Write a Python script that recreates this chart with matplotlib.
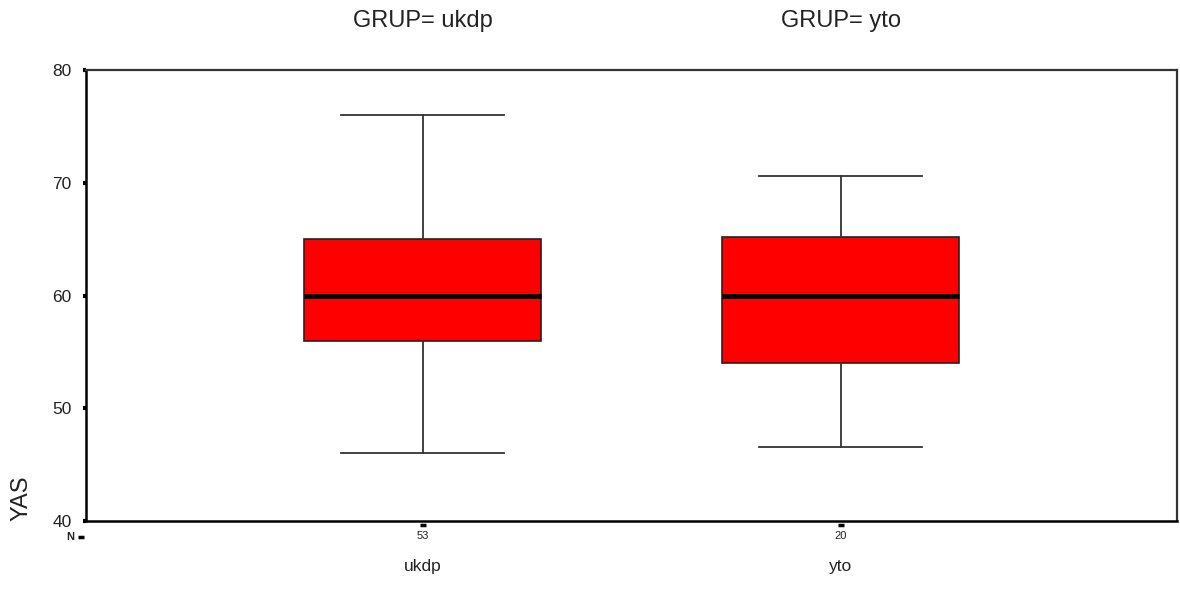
import matplotlib
matplotlib.use("Agg")
import matplotlib.pyplot as plt
import matplotlib.transforms as mtransforms

plt.rcParams['font.family'] = ['Liberation Sans', 'DejaVu Sans']

# Box-plot summaries of YAS by GRUP
groups = ["ukdp", "yto"]
counts = [53, 20]
whisker_low = [46.0, 46.6]
q1 = [56.0, 54.0]
medians = [60.0, 60.0]
q3 = [65.0, 65.2]
whisker_high = [76.0, 70.6]
y_ticks = [40, 50, 60, 70, 80]

positions = [1, 2]

fig = plt.figure(figsize=(11.8, 5.9), dpi=100)
ax = fig.add_axes([0.0729, 0.1169, 0.9246, 0.7645])

stats = []
for i, g in enumerate(groups):
    stats.append(dict(label=g, whislo=whisker_low[i], q1=q1[i], med=medians[i],
                      q3=q3[i], whishi=whisker_high[i], fliers=[]))

ax.bxp(stats, positions=positions, widths=0.565, patch_artist=True,
       showfliers=False, capwidths=0.39,
       boxprops=dict(facecolor="#ff0000", edgecolor="#222222", linewidth=1.2),
       medianprops=dict(color="black", linewidth=3.6, solid_capstyle="butt"),
       whiskerprops=dict(color="#333333", linewidth=1.3),
       capprops=dict(color="#333333", linewidth=1.3))

ax.set_xlim(0.195, 2.805)
ax.set_ylim(40, 80)
ax.set_yticks(y_ticks)
ax.set_yticklabels([str(t) for t in y_ticks], fontsize=12.5, color="#222222")
ax.tick_params(axis="y", direction="out", length=2.5, width=3, pad=8, colors="black",
               labelcolor="#222222")
ax.set_xticks([])

for side in ["left", "bottom"]:
    ax.spines[side].set_linewidth(1.8)
for side in ["top", "right"]:
    ax.spines[side].set_linewidth(1.6)
    ax.spines[side].set_color("#333333")

ax.set_ylabel("YAS", fontsize=17, color="#222222", loc="bottom", labelpad=14)

# Group titles above the panel
top = mtransforms.blended_transform_factory(ax.transData, fig.transFigure)
for p, g in zip(positions, groups):
    ax.text(p, 0.964, f"GRUP= {g}", transform=top, ha="center", va="center",
            fontsize=17, color="#222222")

# Case counts and group names under the axis
below = mtransforms.blended_transform_factory(ax.transData, ax.transAxes)
for p, g, n in zip(positions, groups, counts):
    ax.plot([p], [-0.0098], marker="_", markersize=5, markeredgewidth=2.5,
            color="black", transform=below, clip_on=False)
    ax.text(p, -0.033, str(n), transform=below, ha="center", va="center",
            fontsize=8, color="#222222")
    ax.text(p, -0.1, g, transform=below, ha="center", va="center",
            fontsize=12.5, color="#222222")

ax.text(-0.0105, -0.035, "N", transform=ax.transAxes, ha="right", va="center",
        fontsize=8, fontweight="bold", color="#222222")
ax.plot([-0.0048], [-0.035], marker="_", markersize=5, markeredgewidth=2.5,
        color="black", transform=ax.transAxes, clip_on=False)

fig.savefig("out.png", dpi=100, facecolor="white")
